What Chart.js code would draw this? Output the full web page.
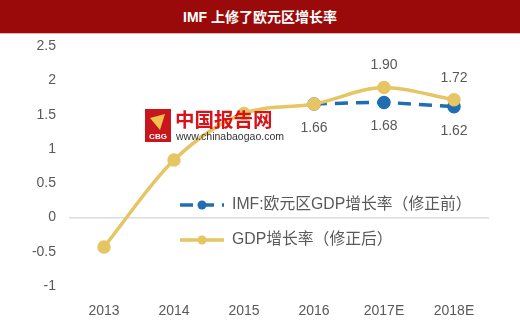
<!DOCTYPE html>
<html>
<head>
<meta charset="utf-8">
<script src="https://cdn.jsdelivr.net/npm/chart.js@4"></script>
<style>
    body { margin: 0; background: #fff; width: 520px; height: 322px; overflow: hidden; }
    #title {
        position: absolute; left: 0; top: 0; width: 520px; height: 33px; z-index: 2;
        background: #9a0a0a; color: #fff; text-align: center;
        font: bold 14px "Liberation Sans", "Noto Sans CJK SC", sans-serif; line-height: 34px;
        border-bottom: 1px solid #e6b3b3;
    }
    #wrap { position: absolute; left: 0; top: 25px; width: 520px; height: 297px; }
</style>
</head>
<body>
<div id="title">IMF 上修了欧元区增长率</div>
<div id="wrap"><canvas id="lineChart" width="520" height="297"></canvas></div>
<script>
const years = ['2013', '2014', '2015', '2016', '2017E', '2018E'];
const gdpRevised = [-0.43, 0.84, 1.52, 1.66, 1.90, 1.72];
const gdpBefore = [null, null, null, 1.66, 1.68, 1.62];
const revisedLabelIdx = [4, 5];
const beforeLabelIdx = [3, 4, 5];
const yTicks = [2.5, 2, 1.5, 1, 0.5, 0, -0.5, -1];

const FONT = '"Liberation Sans", "Noto Sans CJK SC", sans-serif';
const GREY = '#595959';
const BLUE = '#1f6db3';
const GOLD = '#e6c564';

// value labels: gold above, blue below
const valueLabels = {
    id: 'valueLabels',
    afterDatasetsDraw(chart) {
        const ctx = chart.ctx;
        ctx.save();
        ctx.font = '14px ' + FONT;
        ctx.fillStyle = GREY;
        ctx.textAlign = 'center';
        ctx.textBaseline = 'middle';
        const m0 = chart.getDatasetMeta(0);
        beforeLabelIdx.forEach(i => {
            const p = m0.data[i];
            ctx.fillText(gdpBefore[i].toFixed(2), p.x, p.y + 24);
        });
        const m1 = chart.getDatasetMeta(1);
        revisedLabelIdx.forEach(i => {
            const p = m1.data[i];
            ctx.fillText(gdpRevised[i].toFixed(2), p.x, p.y - 22);
        });
        ctx.restore();
    }
};

// legend drawn inside the plot
const innerLegend = {
    id: 'innerLegend',
    afterDraw(chart) {
        const ctx = chart.ctx;
        const x0 = 180, rows = [180, 215];
        ctx.save();
        chart.data.datasets.forEach((ds, i) => {
            const y = rows[i];
            ctx.strokeStyle = ds.borderColor;
            ctx.lineWidth = 3.5;
            ctx.setLineDash(ds.borderDash || []);
            ctx.beginPath();
            ctx.moveTo(x0, y);
            ctx.lineTo(x0 + 44, y);
            ctx.stroke();
            ctx.setLineDash([]);
            ctx.fillStyle = ds.borderColor;
            ctx.beginPath();
            ctx.arc(x0 + 22, y, 4.5, 0, Math.PI * 2);
            ctx.fill();
            ctx.fillStyle = GREY;
            ctx.font = '15.8px ' + FONT;
            ctx.textAlign = 'left';
            ctx.textBaseline = 'middle';
            ctx.fillText(ds.label, x0 + 52, y);
        });
        ctx.restore();
    }
};

// site watermark
const watermark = {
    id: 'watermark',
    afterDatasetsDraw(chart) {
        const ctx = chart.ctx;
        ctx.save();
        ctx.fillStyle = '#c8161d';
        ctx.fillRect(145, 84, 26, 33);
        ctx.fillStyle = '#f2c14e';
        ctx.beginPath();
        ctx.moveTo(150, 93); ctx.lineTo(165, 89); ctx.lineTo(160, 105); ctx.closePath();
        ctx.fill();
        ctx.fillStyle = '#fff';
        ctx.font = 'bold 8px ' + FONT;
        ctx.textAlign = 'center';
        ctx.fillText('CBG', 158, 114);
        ctx.textAlign = 'left';
        ctx.fillStyle = '#d9121a';
        ctx.font = 'bold 19.5px "Noto Sans CJK SC", sans-serif';
        ctx.textBaseline = 'middle';
        ctx.fillText('中国报告网', 175, 95);
        ctx.fillStyle = '#333';
        ctx.font = '10.5px ' + FONT;
        ctx.fillText('www.chinabaogao.com', 176, 112);
        ctx.restore();
    }
};

new Chart(document.getElementById('lineChart'), {
    type: 'line',
    data: {
        labels: years,
        datasets: [{
            label: 'IMF:欧元区GDP增长率（修正前）',
            data: gdpBefore,
            borderColor: BLUE,
            backgroundColor: BLUE,
            borderWidth: 3.5,
            borderDash: [13, 8],
            pointRadius: 5,
            pointHoverRadius: 5,
            tension: 0.2,
            order: 2
        }, {
            label: 'GDP增长率（修正后）',
            data: gdpRevised,
            borderColor: GOLD,
            backgroundColor: GOLD,
            borderWidth: 3.5,
            pointRadius: 5,
            pointHoverRadius: 5,
            cubicInterpolationMode: 'monotone',
            order: 1
        }]
    },
    options: {
        responsive: false,
        animation: false,
        layout: { padding: { top: 2, right: 31, left: 0, bottom: 0 } },
        plugins: {
            legend: { display: false },
            tooltip: { enabled: false }
        },
        scales: {
            x: {
                offset: true,
                grid: { display: false },
                border: { display: false },
                ticks: { color: GREY, font: { size: 14, family: FONT }, padding: 9 },
                afterFit: s => { s.height = 36; }
            },
            y: {
                min: -1,
                max: 2.5,
                afterBuildTicks: s => { s.ticks = yTicks.map(v => ({ value: v })); },
                grid: {
                    color: c => c.tick && c.tick.value === 0 ? '#dcdcdc' : 'transparent',
                    lineWidth: 1.5,
                    drawTicks: false
                },
                border: { display: false },
                ticks: {
                    color: GREY, font: { size: 14, family: FONT }, padding: 13,
                    callback: v => String(v)
                },
                afterFit: s => { s.width = 69; }
            }
        }
    },
    plugins: [valueLabels, innerLegend, watermark]
});
</script>
</body>
</html>
